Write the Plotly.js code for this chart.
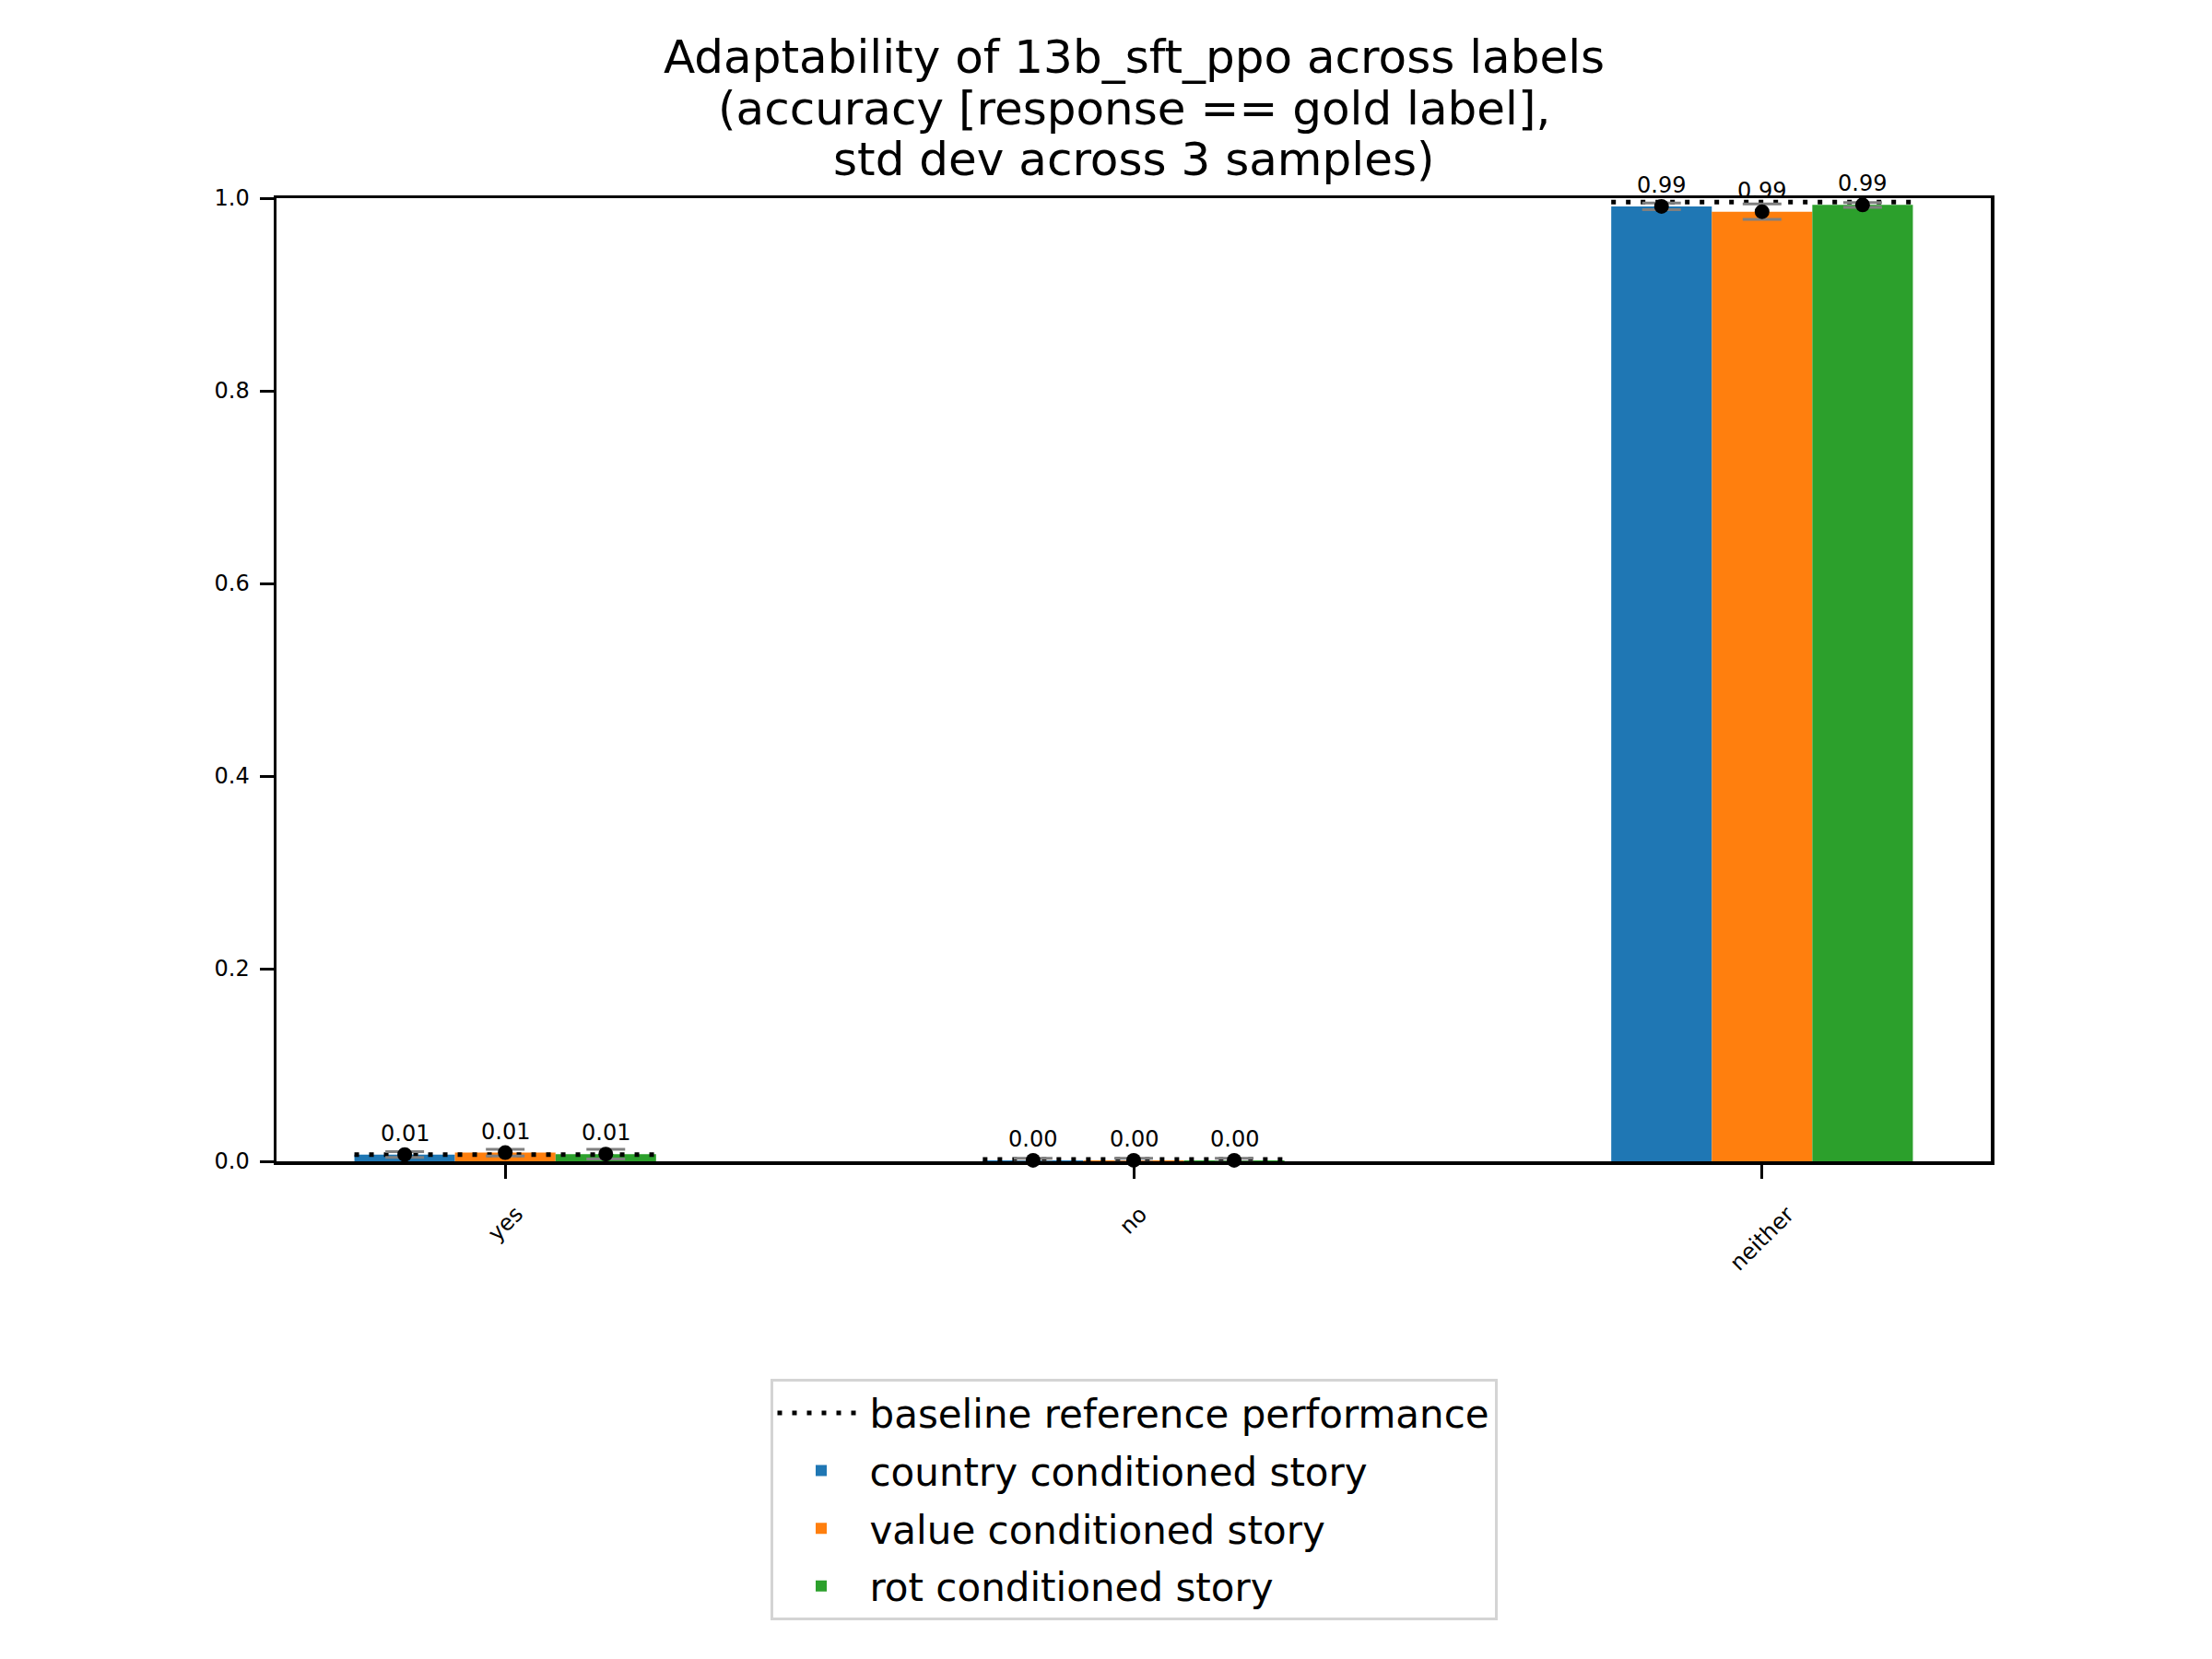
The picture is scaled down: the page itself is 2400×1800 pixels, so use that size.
<!DOCTYPE html>
<html>
<head>
<meta charset="utf-8">
<script src="https://cdn.plot.ly/plotly-3.0.1.min.js"></script>
<style>
  body { margin: 0; background: #fff; }
  #chart { width: 2400px; height: 1800px; }
</style>
</head>
<body>
<div id="chart"></div>
<script>
// labels on the x axis
var categories = ['yes', 'no', 'neither'];

// mean accuracy per story type
var countryMean = [0.0070, 0.0010, 0.9915];
var valueMean   = [0.0090, 0.0010, 0.9860];
var rotMean     = [0.0075, 0.0010, 0.9930];

// std dev across 3 samples
var countryStd = [0.0030, 0.0020, 0.0035];
var valueStd   = [0.0035, 0.0020, 0.0080];
var rotStd     = [0.0050, 0.0020, 0.0025];

// baseline reference performance per label
var baseline = [0.007, 0.002, 0.996];

var seriesNames  = ['country conditioned story', 'value conditioned story', 'rot conditioned story'];
var seriesColors = ['#1f77b4', '#ff7f0e', '#2ca02c'];

// title, one entry per line
var titleLines = [
  'Adaptability of 13b_sft_ppo across labels',
  '(accuracy [response == gold label],',
  'std dev across 3 samples)'
];

var means = [countryMean, valueMean, rotMean];
var stds  = [countryStd, valueStd, rotStd];

var barW = 0.16;
var xs = categories.map(function (c, i) { return i; });

var font = 'DejaVu Sans, sans-serif';
var traces = [];

// dotted baseline spanning each group of bars
var bx = [], by = [];
xs.forEach(function (x, i) {
  bx.push(x - 1.5 * barW, x + 1.5 * barW, null);
  by.push(baseline[i], baseline[i], null);
});
traces.push({
  type: 'scatter', mode: 'lines', x: bx, y: by,
  name: 'baseline reference performance', legendgroup: 'g0',
  line: { color: '#000', width: 5, dash: '5px,11px' },
  cliponaxis: false, hoverinfo: 'skip'
});

// bars
for (var k = 0; k < 3; k++) {
  traces.push({
    type: 'bar', x: xs, y: means[k], name: seriesNames[k],
    legendgroup: 'g' + (k + 1),
    marker: { color: seriesColors[k], line: { width: 0 } }
  });
}

// black mean dots with grey error bars, value labels above
var annotations = [];
for (var k = 0; k < 3; k++) {
  var px = xs.map(function (x) { return x + (k - 1) * barW; });
  traces.push({
    type: 'scatter', mode: 'markers', x: px, y: means[k],
    showlegend: false, cliponaxis: false,
    marker: { color: '#000', size: 16 },
    error_y: { type: 'data', array: stds[k], visible: true, color: '#808080', thickness: 3, width: 21 }
  });
  px.forEach(function (x, i) {
    annotations.push({
      x: x, y: means[k][i], xref: 'x', yref: 'y',
      text: means[k][i].toFixed(2), showarrow: false,
      xanchor: 'center', yanchor: 'bottom', yshift: 7,
      font: { family: font, size: 24, color: '#000' }
    });
  });
}

// rotated category labels, centred under each tick
xs.forEach(function (x, i) {
  annotations.push({
    x: x, y: 0, xref: 'x', yref: 'paper',
    text: categories[i], showarrow: false, textangle: -45,
    xanchor: 'center', yanchor: 'top', yshift: -41,
    font: { family: font, size: 24, color: '#000' }
  });
});

// title lines
var titleY = [1.1464, 1.0931, 1.0405];
titleLines.forEach(function (t, i) {
  annotations.push({
    x: 0.5, y: titleY[i], xref: 'paper', yref: 'paper',
    text: t, showarrow: false, xanchor: 'center', yanchor: 'middle',
    font: { family: font, size: 50, color: '#000' }
  });
});

var layout = {
  width: 2400, height: 1800,
  paper_bgcolor: '#fff', plot_bgcolor: '#fff',
  margin: { l: 300, r: 240, t: 215, b: 540 },
  font: { family: font, color: '#000' },
  barmode: 'group', bargap: 1 - 3 * barW, bargroupgap: 0,
  xaxis: {
    range: [-0.364, 2.364], tickvals: xs, showticklabels: false,
    ticks: 'outside', ticklen: 15, tickwidth: 3, tickcolor: '#000',
    showline: true, linecolor: '#000', linewidth: 3.5, mirror: true,
    showgrid: false, zeroline: false
  },
  yaxis: {
    range: [0, 1], tickvals: [0, 0.2, 0.4, 0.6, 0.8, 1.0], tickformat: '.1f',
    ticks: 'outside', ticklen: 15, tickwidth: 3, tickcolor: '#000',
    ticklabelstandoff: 6,
    tickfont: { family: font, size: 24, color: '#000' },
    showline: true, linecolor: '#000', linewidth: 3.5, mirror: true,
    showgrid: false, zeroline: false
  },
  legend: {
    x: 0.5, xanchor: 'center', xref: 'paper',
    y: -0.226, yanchor: 'top', yref: 'paper',
    orientation: 'v', traceorder: 'grouped', tracegroupgap: 5,
    font: { family: font, size: 42, color: '#000' },
    bgcolor: '#fff', bordercolor: '#d4d4d4', borderwidth: 3,
    itemwidth: 95
  },
  annotations: annotations,
  showlegend: true
};

Plotly.newPlot('chart', traces, layout, { staticPlot: true });
</script>
</body>
</html>
